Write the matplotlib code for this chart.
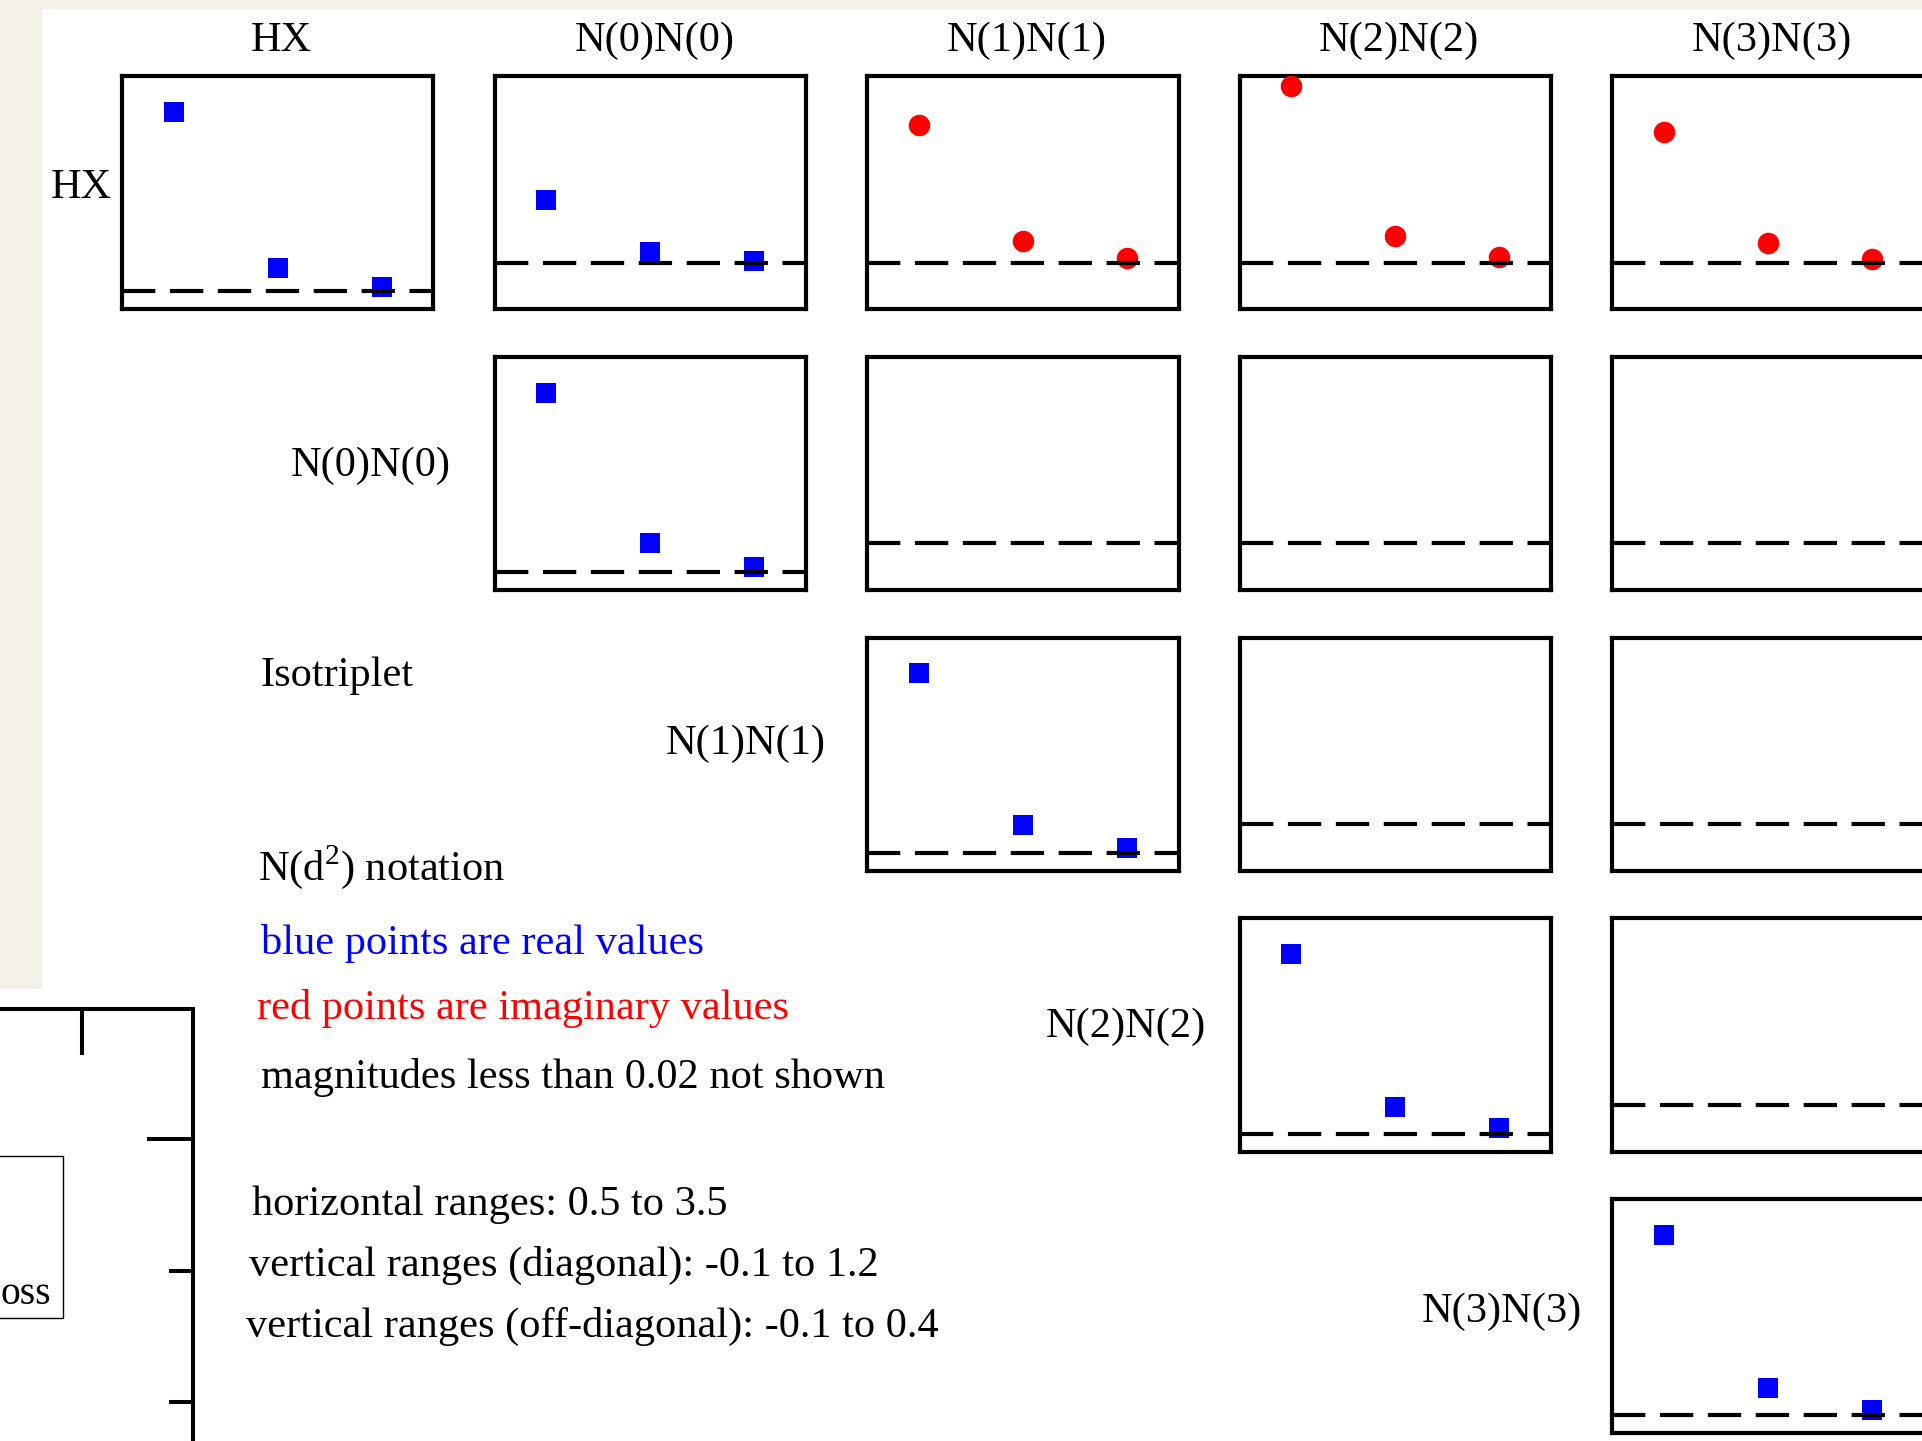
import matplotlib
matplotlib.use('Agg')
import matplotlib.pyplot as plt  # noqa E402
from matplotlib.patches import Rectangle  # noqa E402

plt.rcParams['font.family'] = ['Liberation Serif', 'DejaVu Serif']
plt.rcParams['mathtext.fontset'] = 'custom'
plt.rcParams['mathtext.rm'] = 'Liberation Serif'

# operators of the correlation matrix
operators = ["HX", "N(0)N(0)", "N(1)N(1)", "N(2)N(2)", "N(3)N(3)"]
t_values = [1, 2, 3]

# diagonal elements (real parts, normalised)
diag_hx = [1.00, 0.128, 0.021]
diag_n0 = [1.00, 0.163, 0.030]
diag_n1 = [1.00, 0.158, 0.030]
diag_n2 = [1.00, 0.150, 0.035]
diag_n3 = [1.00, 0.152, 0.029]

# off-diagonal elements in the HX row
hx_n0_real = [0.134, 0.022, 0.004]
hx_n1_imag = [0.295, 0.046, 0.009]
hx_n2_imag = [0.377, 0.057, 0.011]
hx_n3_imag = [0.280, 0.042, 0.008]

notes_black = ["magnitudes less than 0.02 not shown"]
range_notes = ["horizontal ranges: 0.5 to 3.5",
               "vertical ranges (diagonal): -0.1 to 1.2",
               "vertical ranges (off-diagonal): -0.1 to 0.4"]

diag_values = [diag_hx, diag_n0, diag_n1, diag_n2, diag_n3]
off_values = {(0, 1): ("real", hx_n0_real),
              (0, 2): ("imag", hx_n1_imag),
              (0, 3): ("imag", hx_n2_imag),
              (0, 4): ("imag", hx_n3_imag)}

W, H = 1922, 1441
fig = plt.figure(figsize=(W / 100, H / 100), dpi=100)
fig.patch.set_facecolor('white')


def fx(x):
    return x / W


def fy(y):
    return 1 - y / H


beige = '#F3F0E7'
fig.add_artist(Rectangle((0, fy(8)), 1, 8 / H, color=beige, zorder=0,
                         transform=fig.transFigure))
fig.add_artist(Rectangle((0, fy(988)), 41 / W, 988 / H, color=beige, zorder=0,
                         transform=fig.transFigure))

# grid of panels
col0, col_step, pw = 122, 372.5, 311.5
row0, row_step, ph = 75.7, 280.9, 233.5
label_right = [112, 451, 826, 1206, 1582]
label_base = [198, 476, 754, 1037, 1322]
fs = 30.5

for r in range(5):
    for c in range(r, 5):
        left = col0 + c * col_step
        top = row0 + r * row_step
        ax = fig.add_axes([fx(left), fy(top + ph), pw / W, ph / H])
        ax.set_xlim(0.5, 3.5)
        if r == c:
            ax.set_ylim(-0.1, 1.2)
        else:
            ax.set_ylim(-0.1, 0.4)
        ax.set_xticks([])
        ax.set_yticks([])
        for s in ax.spines.values():
            s.set_linewidth(3.0)
        ax.axhline(0, color='black', lw=3.0, dashes=(8, 3.5), zorder=5,
                   clip_on=False)
        if r == c:
            ax.plot(t_values, diag_values[r], 's', color='#0000FF', ms=13.7,
                    mew=0, clip_on=False, zorder=3)
        elif (r, c) in off_values:
            kind, vals = off_values[(r, c)]
            if kind == "real":
                ax.plot(t_values, vals, 's', color='#0000FF', ms=13.7,
                        mew=0, clip_on=False, zorder=3)
            else:
                ax.plot(t_values, vals, 'o', color='#FF0000', ms=15.5,
                        mew=0, clip_on=False, zorder=3)
    # column title and row label
    fig.text(fx(col0 + r * col_step + pw / 2 + 4), fy(51), operators[r],
             ha='center', va='baseline', fontsize=fs)
    fig.text(fx(label_right[r]), fy(label_base[r]), operators[r],
             ha='right', va='baseline', fontsize=fs)

# notes
fig.text(fx(261), fy(686), "Isotriplet", ha='left', va='baseline', fontsize=fs)
fig.text(fx(258), fy(880), r"N(d$^{2}$) notation", ha='left', va='baseline',
         fontsize=fs)
fig.text(fx(261), fy(954), "blue points are real values", color='#0000FF',
         ha='left', va='baseline', fontsize=fs)
fig.text(fx(257), fy(1019), "red points are imaginary values", color='#FF0000',
         ha='left', va='baseline', fontsize=fs)
fig.text(fx(261), fy(1088), notes_black[0], ha='left', va='baseline',
         fontsize=fs)
for x, y, s in zip([252, 249, 246], [1215, 1276, 1337], range_notes):
    fig.text(fx(x), fy(y), s, ha='left', va='baseline', fontsize=fs)

# fragment of a neighbouring plot at the bottom left
axf = fig.add_axes([fx(-400), fy(1600), 593 / W, 591 / H])
axf.set_xlim(-400, 193)
axf.set_ylim(1600, 1009)
axf.spines['left'].set_visible(False)
axf.spines['bottom'].set_visible(False)
for s in ('top', 'right'):
    axf.spines[s].set_linewidth(2.9)
axf.xaxis.tick_top()
axf.yaxis.tick_right()
axf.set_xticks([82])
axf.set_yticks([1139])
axf.set_yticks([1271, 1402], minor=True)
axf.tick_params(which='major', direction='in', length=33, width=2.9,
                labeltop=False, labelright=False)
axf.tick_params(which='minor', direction='in', length=17, width=2.9,
                labelright=False)
axf.patch.set_alpha(0)
fig.add_artist(Rectangle((fx(-60), fy(1318)), 123 / W, 162 / H, fill=False,
                         lw=1.0, edgecolor='black', transform=fig.transFigure))
fig.text(fx(1), fy(1304), "oss", ha='left', va='baseline', fontsize=28.5)

fig.savefig('out.png', dpi=100)
